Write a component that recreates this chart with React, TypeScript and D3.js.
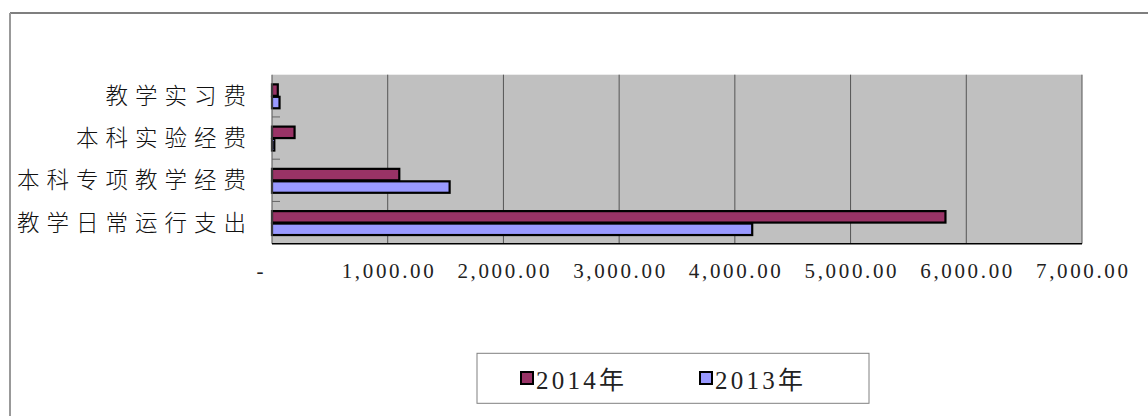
import React from 'react'
import * as d3 from 'd3'

// categories top to bottom, values in 万元
const categories = ['教学实习费', '本科实验经费', '本科专项教学经费', '教学日常运行支出']
const series = ['2014年', '2013年']
const values2014 = [50, 195, 1100, 5820]
const values2013 = [65, 20, 1535, 4150]
const xTicks = [0, 1000, 2000, 3000, 4000, 5000, 6000, 7000]
const tickLabels = ['-', '1,000.00', '2,000.00', '3,000.00', '4,000.00', '5,000.00', '6,000.00', '7,000.00']

const colors: Record<string, string> = { '2014年': '#993366', '2013年': '#9999FF' }

const W = 1148
const H = 416
const plot = { left: 272, right: 1082, top: 74.7, bottom: 243.7 }

const App: React.FC = () => {
  const x = d3.scaleLinear().domain([0, 7000]).range([plot.left, plot.right])
  const y = d3.scaleBand<string>()
    .domain(categories)
    .range([plot.top, plot.bottom])
    .paddingInner(0.41)
    .paddingOuter(0.205)
  const ySeries = d3.scaleBand<string>().domain(series).range([0, y.bandwidth()])
  const step = y.step()

  const rows = categories.map((c, i) => ({ cat: c, vals: [values2014[i], values2013[i]] }))

  const catFont = 22.5
  const letterSp = 7

  return (
    <svg width={W} height={H} style={{ position: 'absolute', left: 0, top: 0, background: '#fff' }}>
      {/* outer chart border (cropped at right/bottom) */}
      <line x1={10} x2={W} y1={13} y2={13} stroke="#555" strokeWidth={1.3} />
      <line x1={10} x2={10} y1={13} y2={H} stroke="#999" strokeWidth={2} />

      {/* plot area */}
      <rect x={plot.left} y={plot.top} width={plot.right - plot.left} height={plot.bottom - plot.top} fill="#C0C0C0" />
      {xTicks.slice(1).map(t => (
        <line key={t} x1={x(t)} x2={x(t)} y1={plot.top} y2={plot.bottom} stroke="#555" strokeWidth={1} />
      ))}

      {/* bars */}
      {rows.map(r => (
        <g key={r.cat} transform={`translate(0,${y(r.cat)})`}>
          {series.map((s, j) => (
            <rect
              key={s}
              x={x(0)}
              y={ySeries(s)! + 1}
              width={Math.max(x(r.vals[j]) - x(0), 0.5)}
              height={ySeries.bandwidth() - 1}
              fill={colors[s]}
              stroke="#000"
              strokeWidth={2.2}
            />
          ))}
        </g>
      ))}

      {/* category axis */}
      <line x1={plot.left} x2={plot.left} y1={plot.top} y2={plot.bottom} stroke="#666" strokeWidth={1.2} />
      {categories.slice(1).map(c => {
        const yy = y(c)! - step * 0.205
        return <line key={c} x1={plot.left} x2={plot.left + 8} y1={yy} y2={yy} stroke="#666" strokeWidth={1} />
      })}
      {categories.map(c => (
        <text
          key={c}
          x={246 + letterSp}
          y={y(c)! + y.bandwidth() / 2}
          dy="0.36em"
          textAnchor="end"
          fontFamily="'Noto Sans CJK SC', sans-serif"
          fontSize={catFont}
          fontWeight={300}
          letterSpacing={letterSp}
          fill="#111"
        >
          {c}
        </text>
      ))}

      {/* value axis */}
      <line x1={plot.left} x2={plot.right} y1={plot.bottom} y2={plot.bottom} stroke="#000" strokeWidth={1.5} />
      {xTicks.map((t, i) => (
        <text
          key={t}
          x={i === 0 ? x(t) - 12 : x(t)}
          y={278}
          textAnchor="middle"
          fontFamily="'Liberation Serif', serif"
          fontSize={21}
          textLength={i === 0 ? undefined : 92}
          lengthAdjust="spacing"
          fill="#222"
        >
          {tickLabels[i]}
        </text>
      ))}

      {/* legend */}
      <rect x={477} y={353.3} width={392} height={50} fill="#fff" stroke="#808080" strokeWidth={1} />
      {series.map((s, i) => {
        const lx = 521 + i * 179
        return (
          <g key={s}>
            <rect x={lx} y={372} width={12} height={12} fill={colors[s]} stroke="#000" strokeWidth={2} />
            <text
              x={lx + 15}
              y={389}
              fontFamily="'Liberation Serif', 'Noto Sans CJK SC', serif"
              fontSize={25}
              textLength={88}
              lengthAdjust="spacing"
              fill="#222"
            >
              {s}
            </text>
          </g>
        )
      })}
    </svg>
  )
}

export default App
